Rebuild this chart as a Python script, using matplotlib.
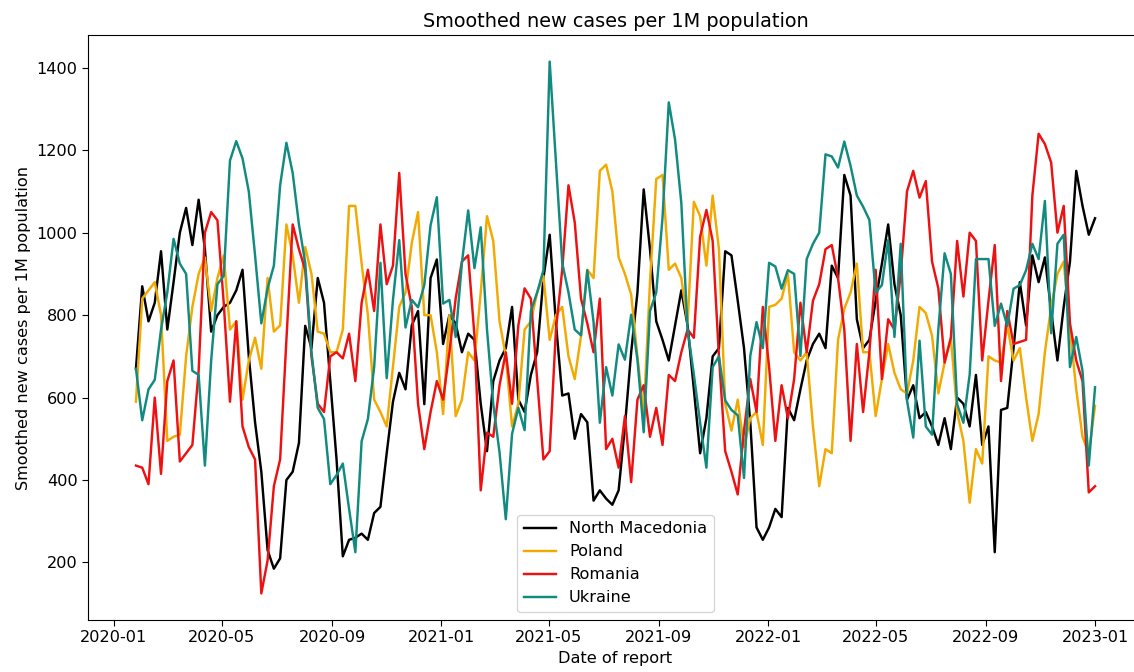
import matplotlib
matplotlib.use("Agg")
import matplotlib.pyplot as plt
import matplotlib.dates as mdates
import pandas as pd

# the reference was drawn a bit larger and scaled down, so text runs ~16% bigger
plt.rcParams["font.size"] = 11.6
plt.rcParams["axes.titlesize"] = 13.9
plt.rcParams["xtick.major.size"] = 4
plt.rcParams["ytick.major.size"] = 4

# weekly report dates (Sundays)
dates = pd.date_range("2020-01-26", periods=154, freq="7D")

north_macedonia = [
    670, 870, 785, 830, 955, 765, 880, 1000, 1060, 970,
    1080, 960, 760, 800, 820, 830, 860, 910, 700, 540,
    420, 230, 185, 210, 400, 420, 490, 774, 720, 890,
    830, 640, 450, 215, 255, 260, 270, 255, 320, 335,
    465, 590, 660, 620, 775, 810, 584, 890, 935, 730,
    800, 780, 710, 755, 740, 585, 470, 640, 690, 720,
    820, 595, 565, 655, 710, 890, 995, 780, 605, 610,
    500, 560, 540, 350, 375, 355, 340, 375, 530, 710,
    855, 1105, 960, 785, 740, 690, 775, 860, 775, 620,
    465, 550, 700, 720, 955, 945, 835, 720, 540, 285,
    255, 285, 330, 310, 575, 545, 620, 690, 730, 755,
    720, 920, 890, 1140, 1090, 790, 720, 740, 835, 925,
    1020, 875, 800, 595, 630, 550, 565, 530, 485, 550,
    475, 600, 585, 530, 655, 485, 530, 225, 570, 575,
    720, 880, 775, 945, 880, 940, 810, 690, 820, 930,
    1150, 1065, 995, 1035,
]

poland = [
    590, 840, 860, 880, 800, 495, 505, 510, 700, 820,
    900, 940, 810, 890, 945, 765, 785, 595, 690, 745,
    670, 890, 760, 775, 1020, 945, 830, 965, 900, 760,
    755, 710, 710, 765, 1065, 1065, 925, 800, 595, 565,
    530, 675, 820, 855, 975, 1050, 800, 800, 710, 560,
    800, 555, 595, 710, 690, 855, 1040, 980, 785, 700,
    530, 585, 765, 785, 855, 895, 740, 800, 820, 700,
    645, 750, 910, 890, 1150, 1165, 1100, 940, 900, 850,
    700, 560, 880, 1130, 1140, 910, 925, 890, 780, 1075,
    1040, 920, 1090, 960, 585, 520, 595, 480, 550, 565,
    485, 820, 825, 840, 900, 710, 690, 710, 530, 385,
    475, 465, 740, 815, 855, 925, 710, 710, 555, 645,
    730, 660, 620, 610, 690, 820, 805, 750, 610, 685,
    745, 565, 495, 345, 475, 440, 700, 690, 685, 775,
    690, 720, 600, 495, 560, 710, 820, 900, 930, 765,
    620, 505, 465, 580,
]

romania = [
    435, 430, 390, 600, 415, 640, 690, 445, 465, 485,
    665, 1000, 1050, 1030, 830, 590, 785, 530, 480, 450,
    125, 205, 385, 450, 740, 1020, 960, 910, 700, 585,
    565, 700, 710, 695, 755, 640, 830, 910, 810, 1020,
    875, 920, 1145, 900, 820, 585, 475, 565, 640, 595,
    710, 840, 930, 945, 750, 375, 515, 505, 630, 710,
    585, 775, 865, 840, 645, 450, 470, 765, 910, 1115,
    1025, 840, 780, 710, 840, 475, 500, 430, 555, 395,
    595, 630, 505, 575, 485, 655, 640, 710, 765, 745,
    990, 1055, 980, 700, 470, 420, 365, 520, 645, 565,
    820, 675, 495, 630, 550, 645, 830, 710, 835, 875,
    960, 970, 890, 765, 495, 730, 565, 710, 910, 645,
    790, 765, 900, 1100, 1150, 1085, 1125, 930, 865, 685,
    745, 980, 845, 1000, 980, 690, 835, 970, 640, 810,
    730, 735, 740, 1090, 1240, 1215, 1170, 1000, 1065, 780,
    690, 640, 370, 385,
]

ukraine = [
    670, 545, 620, 643, 765, 855, 985, 925, 900, 665,
    655, 435, 690, 875, 895, 1175, 1222, 1180, 1100, 945,
    780, 865, 920, 1115, 1218, 1145, 1020, 927, 710, 575,
    548, 390, 412, 440, 330, 225, 494, 548, 674, 927,
    647, 837, 982, 770, 837, 819, 873, 1018, 1086, 828,
    837, 747, 927, 1054, 914, 1013, 765, 584, 467, 305,
    512, 575, 521, 810, 855, 909, 1415, 1171, 927, 855,
    765, 751, 909, 783, 539, 674, 605, 729, 692, 801,
    692, 516, 810, 855, 1036, 1316, 1226, 1072, 765, 656,
    539, 430, 674, 700, 593, 570, 557, 405, 701, 783,
    720, 927, 918, 864, 909, 900, 701, 936, 973, 1000,
    1190, 1185, 1158, 1221, 1162, 1090, 1063, 1031, 855, 873,
    982, 747, 973, 593, 503, 738, 530, 510, 765, 950,
    900, 584, 539, 656, 936, 936, 936, 774, 828, 774,
    864, 873, 909, 973, 936, 1077, 756, 973, 995, 674,
    747, 665, 435, 625,
]

series = [
    ("North Macedonia", north_macedonia, "black"),
    ("Poland", poland, "#f2a900"),
    ("Romania", romania, "#ee1111"),
    ("Ukraine", ukraine, "#118a80"),
]

fig = plt.figure(figsize=(11.34, 6.72), dpi=100)
# the original axes runs a little past the right edge of the picture
ax = fig.add_axes([88 / 1134, 52 / 672, 1055 / 1134, 585 / 672])

for name, values, color in series:
    ax.plot(dates, values, color=color, linewidth=1.75, label=name)

ax.xaxis.set_major_locator(mdates.MonthLocator(bymonth=[1, 5, 9]))
ax.xaxis.set_major_formatter(mdates.DateFormatter("%Y-%m"))

ax.set_title("Smoothed new cases per 1M population")
ax.set_xlabel("Date of report")
ax.set_ylabel("Smoothed new cases per 1M population")
ax.legend(loc="lower center")

fig.savefig("out.png", dpi=100)
